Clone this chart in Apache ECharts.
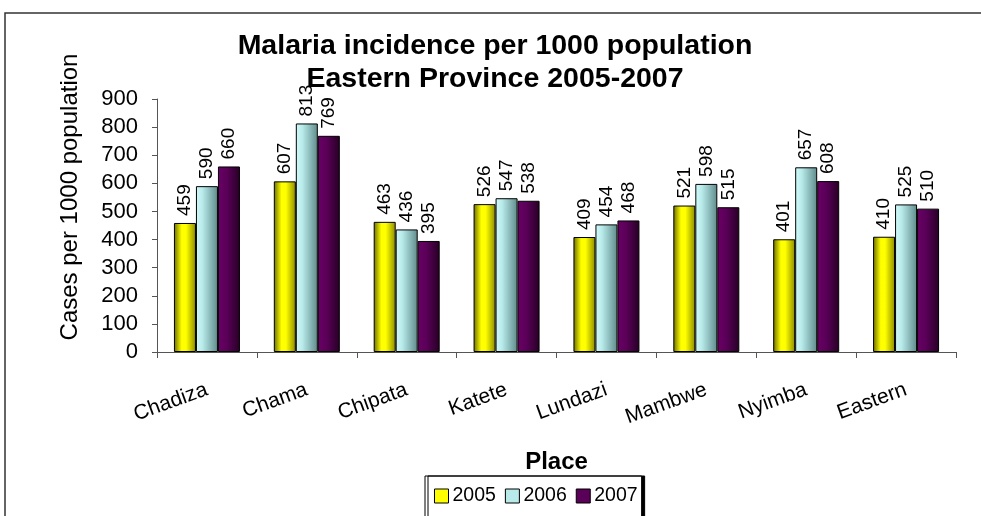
<!DOCTYPE html>
<html><head><meta charset="utf-8">
<script src="https://cdn.jsdelivr.net/npm/echarts@6/dist/echarts.min.js"></script>
<style>html,body{margin:0;padding:0;background:#fff}#c{width:981px;height:516px}</style>
</head><body><div id="c"></div>
<script>
var categories = ['Chadiza','Chama','Chipata','Katete','Lundazi','Mambwe','Nyimba','Eastern'];
var seriesNames = ['2005','2006','2007'];
var values2005 = [459, 607, 463, 526, 409, 521, 401, 410];
var values2006 = [590, 813, 436, 547, 454, 598, 657, 525];
var values2007 = [660, 769, 395, 538, 468, 515, 608, 510];
var yTicks = [0,100,200,300,400,500,600,700,800,900];

function grad(stops){
  return new echarts.graphic.LinearGradient(0,0,1,0, stops.map(function(s){return {offset:s[0], color:s[1]};}));
}
var colors = [
  grad([[0,'#6b6b00'],[0.35,'#ffff00'],[0.55,'#ffff00'],[1,'#8c8c00']]),
  grad([[0,'#d2fafa'],[0.3,'#b8eaea'],[1,'#5f8a8a']]),
  grad([[0,'#6a0066'],[0.4,'#5a0058'],[1,'#260024']])
];
var solid = ['#ffff00','#b8eaea','#5a0058'];
var data = [values2005, values2006, values2007];
var font = "'Liberation Sans', Arial, sans-serif";

var chart = echarts.init(document.getElementById('c'), null, {renderer:'canvas'});
chart.setOption({
  animation:false,
  backgroundColor:'#fff',
  title:{
    text:'Malaria incidence per 1000 population\nEastern Province 2005-2007',
    left:490, top:25, textAlign:'center',
    textStyle:{fontFamily:font, fontWeight:'bold', fontSize:28.5, lineHeight:33, color:'#000'}
  },
  grid:{left:157, right:25, top:99, bottom:164},
  legend:{
    left:425, top:476, itemWidth:14, itemHeight:14, itemGap:9,
    padding:[10,4,30,9],
    borderColor:'#000', borderWidth:1,
    shadowColor:'#000', shadowOffsetX:3, shadowOffsetY:0, shadowBlur:0,
    backgroundColor:'#fff',
    textStyle:{fontFamily:font, fontSize:19.5, color:'#000', padding:[0,0,0,-1]},
    data: seriesNames.map(function(n,i){return {name:n, icon:'rect', itemStyle:{color:solid[i], borderColor:'#000', borderWidth:1}};})
  },
  xAxis:{
    type:'category', data:categories,
    name:'Place', nameLocation:'middle', nameGap:98,
    nameTextStyle:{fontFamily:font, fontWeight:'bold', fontSize:24, color:'#000'},
    axisLine:{lineStyle:{color:'#555', width:1}},
    axisTick:{show:true, alignWithLabel:false, length:6, lineStyle:{color:'#555'}},
    axisLabel:{rotate:20, margin:37, fontFamily:font, fontSize:21, color:'#000', interval:0}
  },
  yAxis:{
    type:'value', min:0, max:900, interval:100,
    axisLine:{show:true, lineStyle:{color:'#555', width:1}},
    axisTick:{show:true, length:5, lineStyle:{color:'#555'}},
    splitLine:{show:false},
    axisLabel:{margin:19, fontFamily:font, fontSize:22, color:'#000',
      formatter:function(v){return yTicks.indexOf(v)>=0?String(v):'';}}
  },
  graphic:[
    {type:'rect', shape:{x:5, y:13, width:1100, height:700}, style:{fill:null, stroke:'#333', lineWidth:1.5}, z:-10},
    {type:'text', x:70, y:197, rotation:Math.PI/2, style:{text:'Cases per 1000 population', fontFamily:font, fontSize:24, fill:'#000', textAlign:'center', textVerticalAlign:'middle'}}
  ],
  series: seriesNames.map(function(n,i){
    return {
      name:n, type:'bar', data:data[i], barWidth:22, barGap:'0%',
      itemStyle:{color:colors[i], borderColor:'#000', borderWidth:1},
      label:{show:true, position:'top', rotate:90, align:'left', verticalAlign:'middle', distance:7,
        fontFamily:font, fontSize:19, color:'#000'}
    };
  })
});
</script></body></html>
